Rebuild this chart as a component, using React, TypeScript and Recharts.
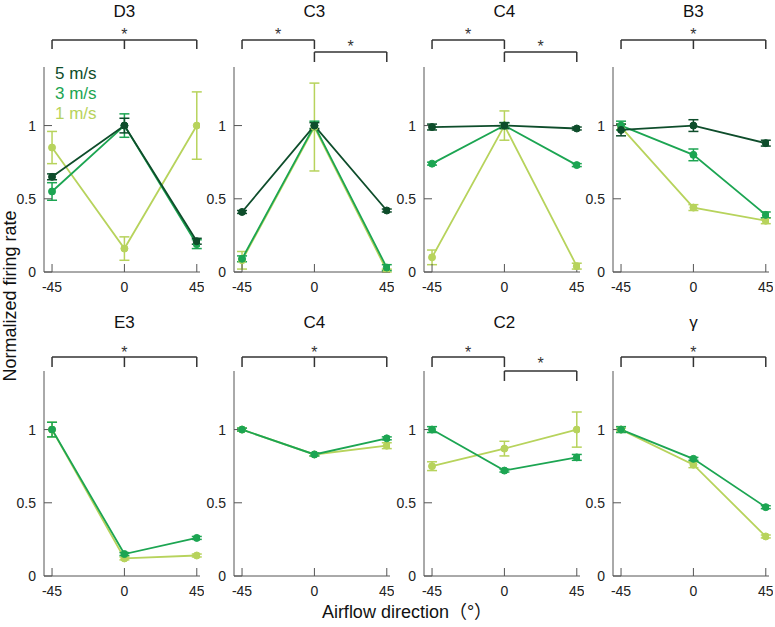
import React from 'react'
import { LineChart, Line, XAxis, YAxis, ErrorBar, ReferenceLine, ReferenceDot, Legend } from 'recharts'

const FONT = '"Liberation Sans", Arial, "Noto Sans CJK JP", sans-serif'

const directions = [-45, 0, 45]
const speeds = ['5 m/s', '3 m/s', '1 m/s']
const speedColors = ['#0e4d2b', '#1ca552', '#b7d35c']

// top row
const d3Fast = [0.65, 1.0, 0.21]
const d3FastErr = [0.02, 0.05, 0.02]
const d3Mid = [0.55, 1.0, 0.19]
const d3MidErr = [0.06, 0.08, 0.03]
const d3Slow = [0.85, 0.16, 1.0]
const d3SlowErr = [0.11, 0.08, 0.23]

const c3Fast = [0.41, 1.0, 0.42]
const c3FastErr = [0.01, 0.02, 0.01]
const c3Mid = [0.09, 1.0, 0.03]
const c3MidErr = [0.02, 0.03, 0.02]
const c3Slow = [0.08, 0.99, 0.01]
const c3SlowErr = [0.06, 0.3, 0.01]

const c4aFast = [0.99, 1.0, 0.98]
const c4aFastErr = [0.02, 0.02, 0.01]
const c4aMid = [0.74, 1.0, 0.73]
const c4aMidErr = [0.01, 0.02, 0.01]
const c4aSlow = [0.1, 1.0, 0.04]
const c4aSlowErr = [0.05, 0.1, 0.02]

const b3Fast = [0.97, 1.0, 0.88]
const b3FastErr = [0.04, 0.04, 0.02]
const b3Mid = [1.0, 0.8, 0.39]
const b3MidErr = [0.03, 0.04, 0.02]
const b3Slow = [0.99, 0.44, 0.35]
const b3SlowErr = [0.02, 0.02, 0.02]

// bottom row
const e3Mid = [1.0, 0.15, 0.26]
const e3MidErr = [0.05, 0.01, 0.01]
const e3Slow = [1.0, 0.12, 0.14]
const e3SlowErr = [0.05, 0.01, 0.01]

const c4bMid = [1.0, 0.83, 0.94]
const c4bMidErr = [0.01, 0.01, 0.01]
const c4bSlow = [1.0, 0.83, 0.89]
const c4bSlowErr = [0.01, 0.01, 0.02]

const c2Mid = [1.0, 0.72, 0.81]
const c2MidErr = [0.02, 0.01, 0.02]
const c2Slow = [0.75, 0.87, 1.0]
const c2SlowErr = [0.03, 0.05, 0.12]

const gammaMid = [1.0, 0.8, 0.47]
const gammaMidErr = [0.02, 0.01, 0.01]
const gammaSlow = [1.0, 0.76, 0.27]
const gammaSlowErr = [0.01, 0.02, 0.01]

type Series = { idx: number; vals: number[]; errs: number[] }
type Panel = { title: string; row: number; col: number; bracket: 'full' | 'split'; series: Series[]; legend?: boolean }

const panels: Panel[] = [
  { title: 'D3', row: 0, col: 0, bracket: 'full', legend: true, series: [
    { idx: 0, vals: d3Fast, errs: d3FastErr }, { idx: 1, vals: d3Mid, errs: d3MidErr }, { idx: 2, vals: d3Slow, errs: d3SlowErr }] },
  { title: 'C3', row: 0, col: 1, bracket: 'split', series: [
    { idx: 0, vals: c3Fast, errs: c3FastErr }, { idx: 1, vals: c3Mid, errs: c3MidErr }, { idx: 2, vals: c3Slow, errs: c3SlowErr }] },
  { title: 'C4', row: 0, col: 2, bracket: 'split', series: [
    { idx: 0, vals: c4aFast, errs: c4aFastErr }, { idx: 1, vals: c4aMid, errs: c4aMidErr }, { idx: 2, vals: c4aSlow, errs: c4aSlowErr }] },
  { title: 'B3', row: 0, col: 3, bracket: 'full', series: [
    { idx: 0, vals: b3Fast, errs: b3FastErr }, { idx: 1, vals: b3Mid, errs: b3MidErr }, { idx: 2, vals: b3Slow, errs: b3SlowErr }] },
  { title: 'E3', row: 1, col: 0, bracket: 'full', series: [
    { idx: 1, vals: e3Mid, errs: e3MidErr }, { idx: 2, vals: e3Slow, errs: e3SlowErr }] },
  { title: 'C4', row: 1, col: 1, bracket: 'full', series: [
    { idx: 1, vals: c4bMid, errs: c4bMidErr }, { idx: 2, vals: c4bSlow, errs: c4bSlowErr }] },
  { title: 'C2', row: 1, col: 2, bracket: 'split', series: [
    { idx: 1, vals: c2Mid, errs: c2MidErr }, { idx: 2, vals: c2Slow, errs: c2SlowErr }] },
  { title: 'γ', row: 1, col: 3, bracket: 'full', series: [
    { idx: 1, vals: gammaMid, errs: gammaMidErr }, { idx: 2, vals: gammaSlow, errs: gammaSlowErr }] },
]

const colLeft = [14, 204, 394, 583]
// annotation heights are in y units (plot spans 0..1.4)
const rows = [
  { top: 0, height: 300, mTop: 67, mBottom: 8, br: 1.584, drop: 1.523, br2: 1.502, drop2: 1.434, star: 1.625, star2: 1.54, title: 1.782 },
  { top: 300, height: 327, mTop: 71, mBottom: 31, br: 1.496, drop: 1.427, br2: 1.4, drop2: 1.332, star: 1.525, star2: 1.45, title: 1.735 },
]

const INK = '#333'

function seg(key: string, x1: number, y1: number, x2: number, y2: number) {
  return (
    <ReferenceLine key={key} segment={[{ x: x1, y: y1 }, { x: x2, y: y2 }]} stroke={INK} strokeWidth={1.5} ifOverflow="visible" />
  )
}

function star(key: string, x: number, y: number) {
  return (
    <ReferenceDot key={key} x={x} y={y} r={1} fill="none" stroke="none" ifOverflow="visible"
      label={{ value: '*', position: 'center', fontSize: 16, fill: INK, fontFamily: FONT }} />
  )
}

function brackets(p: Panel) {
  const r = rows[p.row]
  if (p.bracket === 'full') {
    return [
      seg('h', -45, r.br, 45, r.br),
      seg('a', -45, r.br, -45, r.drop),
      seg('b', 0, r.br, 0, r.drop),
      seg('c', 45, r.br, 45, r.drop),
      star('s', 0, r.star),
    ]
  }
  return [
    seg('h1', -45, r.br, 0, r.br),
    seg('a1', -45, r.br, -45, r.drop),
    seg('b1', 0, r.br, 0, r.drop),
    seg('h2', 0, r.br2, 45, r.br2),
    seg('a2', 0, r.br2, 0, r.drop2),
    seg('b2', 45, r.br2, 45, r.drop2),
    star('s1', -22.5, r.star),
    star('s2', 22.5, r.star2),
  ]
}

function PanelChart({ p }: { p: Panel }) {
  const r = rows[p.row]
  const data = directions.map((d, i) => {
    const row: Record<string, number> = { dir: d }
    p.series.forEach((s) => {
      row[`v${s.idx}`] = s.vals[i]
      row[`e${s.idx}`] = s.errs[i]
    })
    return row
  })
  const drawOrder = [...p.series].sort((a, b) => b.idx - a.idx)
  return (
    <div style={{ position: 'absolute', left: colLeft[p.col], top: r.top }}>
      <LineChart width={190} height={r.height} data={data}
        margin={{ top: r.mTop, right: 4, bottom: r.mBottom, left: 0 }} style={{ fontFamily: FONT }}>
        <XAxis dataKey="dir" type="number" domain={[-50, 47]} ticks={directions} allowDataOverflow
          height={20} stroke="#555" tickSize={-8} tickMargin={18}
          tick={{ fontSize: 14, fill: '#222', fontFamily: FONT }} />
        <YAxis type="number" domain={[0, 1.4]} ticks={[0, 0.5, 1]} allowDataOverflow width={30}
          stroke="#555" tickSize={-8} tickMargin={16}
          tick={{ fontSize: 14, fill: '#222', fontFamily: FONT }} />
        <ReferenceDot x={0} y={r.title} r={1} fill="none" stroke="none" ifOverflow="visible"
          label={{ value: p.title, position: 'center', fontSize: 17, fill: '#111', fontFamily: FONT }} />
        {brackets(p)}
        {drawOrder.map((s) => (
          <Line key={s.idx} dataKey={`v${s.idx}`} name={speeds[s.idx]} stroke={speedColors[s.idx]}
            strokeWidth={1.8} isAnimationActive={false}
            dot={{ r: 3.5, fill: speedColors[s.idx], stroke: speedColors[s.idx], strokeWidth: 1 }}>
            <ErrorBar dataKey={`e${s.idx}`} width={5} stroke={speedColors[s.idx]} strokeWidth={1.5} direction="y" />
          </Line>
        ))}
        {p.legend && (
          <Legend layout="vertical" align="center" verticalAlign="middle"
            wrapperStyle={{ left: 41, top: 64, width: 80 }}
            content={({ payload }) => (
              <div style={{ fontSize: 17, lineHeight: '20px', fontFamily: FONT }}>
                {[...(payload ?? [])]
                  .sort((a, b) => String(a.value).localeCompare(String(b.value)) * -1)
                  .map((it) => (
                    <div key={String(it.value)} style={{ color: it.color }}>{String(it.value)}</div>
                  ))}
              </div>
            )} />
        )}
      </LineChart>
    </div>
  )
}

export default function App() {
  return (
    <div style={{ position: 'absolute', left: 0, top: 0, width: 775, height: 627, background: '#fff', fontFamily: FONT }}>
      {panels.map((p) => (
        <PanelChart key={`${p.row}-${p.col}`} p={p} />
      ))}
      <div style={{ position: 'absolute', left: 10, top: 296, transform: 'translate(-50%, -50%) rotate(-90deg)',
        whiteSpace: 'nowrap', fontSize: 18, lineHeight: '20px', color: '#111' }}>
        Normalized firing rate
      </div>
      <div style={{ position: 'absolute', left: 407, top: 612, transform: 'translate(-50%, -50%)',
        whiteSpace: 'nowrap', fontSize: 18, lineHeight: '20px', color: '#111' }}>
        Airflow direction（°）
      </div>
    </div>
  )
}
